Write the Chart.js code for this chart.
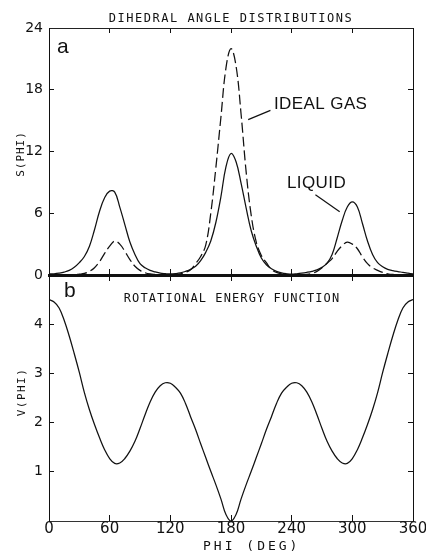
<!DOCTYPE html>
<html><head><meta charset="utf-8">
<script src="https://cdn.jsdelivr.net/npm/chart.js@4.4.0/dist/chart.umd.min.js"></script>
<style>
html,body{margin:0;padding:0;background:#fff;}
#wrap{position:relative;width:426px;height:553px;overflow:hidden;}
#c1{position:absolute;left:0;top:0;}
#c2{position:absolute;left:0;top:265px;}
</style></head><body>
<div id="wrap"><canvas id="c1" width="426" height="290"></canvas><canvas id="c2" width="426" height="288"></canvas></div>
<script>
// ---- data ----
const PHI = [0,5,10,15,20,25,30,35,40,45,50,55,60,65,70,75,80,85,90,95,100,105,110,115,120,125,130,135,140,145,150,155,160,165,170,175,180,185,190,195,200,205,210,215,220,225,230,235,240,245,250,255,260,265,270,275,280,285,290,295,300,305,310,315,320,325,330,335,340,345,350,355,360];
const LIQUID = [
  0.10,0.12,0.18,0.28,0.45,0.75,1.20,1.80,2.80,4.40,6.20,7.50,
  8.15,8.05,6.60,4.90,3.20,2.00,1.10,0.70,0.45,0.30,0.18,0.13,
  0.10,0.13,0.20,0.35,0.55,0.85,1.40,2.20,3.30,5.10,7.60,10.50,
  11.80,11.00,8.90,6.50,4.30,2.80,1.65,1.00,0.60,0.35,0.20,0.12,
  0.08,0.12,0.18,0.26,0.36,0.50,0.75,1.15,2.00,3.60,5.30,6.60,
  7.10,6.60,5.00,3.30,2.00,1.20,0.80,0.55,0.42,0.33,0.26,0.18,
  0.10];
const IDEAL_GAS = [
  0,0,0,0.01,0.02,0.04,0.08,0.15,0.35,0.70,1.30,2.10,
  2.80,3.30,3.00,2.30,1.50,0.85,0.45,0.22,0.10,0.05,0.02,0.01,
  0.01,0.03,0.10,0.25,0.50,1.10,1.80,2.90,6.00,10.40,15.30,20.10,
  22.00,20.30,15.60,10.00,5.80,3.20,1.90,1.20,0.55,0.25,0.10,0.03,
  0.01,0.01,0.02,0.05,0.15,0.35,0.70,1.15,1.60,2.30,2.85,3.20,
  3.00,2.55,1.75,1.10,0.70,0.45,0.25,0.12,0.05,0.02,0.01,0,
  0];
const ENERGY = [
  4.50,4.45,4.33,4.08,3.76,3.40,3.02,2.61,2.26,1.96,1.69,1.45,
  1.27,1.17,1.18,1.27,1.42,1.62,1.88,2.16,2.42,2.62,2.75,2.81,
  2.80,2.72,2.60,2.39,2.12,1.86,1.57,1.29,1.01,0.74,0.45,0.13,
  0.00,0.13,0.45,0.74,1.01,1.29,1.57,1.86,2.12,2.39,2.60,2.72,
  2.80,2.81,2.75,2.62,2.42,2.16,1.88,1.62,1.42,1.27,1.18,1.17,
  1.27,1.45,1.69,1.96,2.26,2.61,3.02,3.40,3.76,4.08,4.33,4.45,
  4.50];
const X_TICKS = [0,60,120,180,240,300,360];
const S_TICKS = [0,6,12,18,24];
const V_TICKS = [1,2,3,4];

// ---- helpers ----
const INK = '#111';
const pts = (xs, ys) => xs.map((x, i) => ({x: x, y: ys[i]}));
const setTicks = arr => s => { s.ticks = arr.map(v => ({value: v})); };

function text(ctx, t, x, y, font, spacing, align, rot) {
  ctx.save();
  ctx.font = font;
  try { ctx.letterSpacing = (spacing || 0) + 'px'; } catch (e) {}
  ctx.fillStyle = INK;
  ctx.textAlign = align || 'left';
  ctx.textBaseline = 'middle';
  ctx.translate(x, y);
  if (rot) ctx.rotate(rot);
  ctx.fillText(t, 0, 0);
  ctx.restore();
}
function leader(chart, x1, y1, x2, y2) {
  const xs = chart.scales.x, ys = chart.scales.y, ctx = chart.ctx;
  ctx.save();
  ctx.strokeStyle = INK; ctx.lineWidth = 1.2;
  ctx.beginPath();
  ctx.moveTo(xs.getPixelForValue(x1), ys.getPixelForValue(y1));
  ctx.lineTo(xs.getPixelForValue(x2), ys.getPixelForValue(y2));
  ctx.stroke();
  ctx.restore();
}

const MONO = '"DejaVu Sans Mono", monospace';
const SANS = '"Liberation Sans", Arial, sans-serif';

const textsTop = {
  id: 'textsTop',
  afterDraw(chart) {
    const ctx = chart.ctx;
    text(ctx, 'DIHEDRAL ANGLE DISTRIBUTIONS', 231, 19, '12px ' + MONO, 1.5, 'center');
    text(ctx, 'a', 57, 47, '21px ' + SANS, 0, 'left');
    text(ctx, 'S(PHI)', 21, 154, '11px ' + MONO, 1.0, 'center', -Math.PI / 2);
    text(ctx, 'IDEAL GAS', 274, 104, '17px ' + SANS, 0.4, 'left');
    text(ctx, 'LIQUID', 287, 183, '17px ' + SANS, 0.4, 'left');
    leader(chart, 197, 15.1, 219, 16.0);
    leader(chart, 263.5, 7.8, 287.5, 6.15);
  }
};
const textsBottom = {
  id: 'textsBottom',
  afterDraw(chart) {
    const ctx = chart.ctx;
    text(ctx, 'b', 64, 26, '21px ' + SANS, 0, 'left');
    text(ctx, 'ROTATIONAL ENERGY FUNCTION', 232, 34, '12px ' + MONO, 1.1, 'center');
    text(ctx, 'V(PHI)', 22, 127, '11px ' + MONO, 1.5, 'center', -Math.PI / 2);
    text(ctx, 'PHI (DEG)', 203, 282, '13px ' + MONO, 3, 'left');
  }
};

const base = {
  responsive: false, maintainAspectRatio: false, animation: false,
  plugins: {legend: {display: false}, tooltip: {enabled: false}},
  elements: {point: {radius: 0}, line: {borderWidth: 1.25, borderColor: INK, tension: 0.4, fill: false}}
};
const noPad = s => { s.paddingLeft = 0; s.paddingRight = 0; s.paddingTop = 0; s.paddingBottom = 0; };

// ---- top panel ----
new Chart(document.getElementById('c1'), {
  type: 'line',
  data: {datasets: [
    {label: 'LIQUID', data: pts(PHI, LIQUID), borderColor: INK, borderWidth: 1.25},
    {label: 'IDEAL GAS', data: pts(PHI, IDEAL_GAS), borderColor: INK, borderWidth: 1.25, borderDash: [10, 4]}
  ]},
  options: Object.assign({}, base, {
    layout: {padding: {left: 0, right: 13, top: 28, bottom: 0}},
    scales: {
      x: {type: 'linear', position: 'bottom', min: 0, max: 360, afterBuildTicks: setTicks(X_TICKS),
          ticks: {display: false}, grid: {drawOnChartArea: false, tickLength: -6, color: INK, lineWidth: 1},
          border: {color: INK, width: 3}, afterFit: s => { s.height = 15; noPad(s); }},
      xTop: {type: 'linear', position: 'top', min: 0, max: 360, afterBuildTicks: setTicks(X_TICKS),
          ticks: {display: false}, grid: {drawOnChartArea: false, tickLength: -5, color: INK, lineWidth: 1},
          border: {color: '#222', width: 1, dash: [12, 3, 3, 3]}, afterFit: s => { s.height = 0; noPad(s); }},
      y: {type: 'linear', position: 'left', min: 0, max: 24, afterBuildTicks: setTicks(S_TICKS),
          ticks: {color: INK, padding: 11, font: {family: 'DejaVu Sans', size: 14}},
          grid: {drawOnChartArea: false, tickLength: -5, color: INK, lineWidth: 1},
          border: {color: INK, width: 1}, afterFit: s => { s.width = 49; noPad(s); }},
      yR: {type: 'linear', position: 'right', min: 0, max: 24, afterBuildTicks: setTicks(S_TICKS),
          ticks: {display: false}, grid: {drawOnChartArea: false, tickLength: -5, color: INK, lineWidth: 1},
          border: {color: INK, width: 1}, afterFit: s => { s.width = 0; noPad(s); }}
    }
  }),
  plugins: [textsTop]
});

// ---- bottom panel ----
new Chart(document.getElementById('c2'), {
  type: 'line',
  data: {datasets: [
    {label: 'V(PHI)', data: pts(PHI, ENERGY), borderColor: INK, borderWidth: 1.25}
  ]},
  options: Object.assign({}, base, {
    layout: {padding: {left: 0, right: 13, top: 10, bottom: 0}},
    scales: {
      x: {type: 'linear', position: 'bottom', min: 0, max: 360, afterBuildTicks: setTicks(X_TICKS),
          ticks: {color: INK, padding: 5.5, maxRotation: 0, font: {family: 'DejaVu Sans', size: 15}},
          grid: {drawOnChartArea: false, tickLength: -6, color: INK, lineWidth: 1},
          border: {color: '#333', width: 1, dash: [10, 3, 2, 3]}, afterFit: s => { s.height = 32; noPad(s); }},
      xTop: {type: 'linear', position: 'top', min: 0, max: 360, afterBuildTicks: setTicks(X_TICKS),
          ticks: {display: false}, grid: {drawOnChartArea: false, tickLength: -6, color: INK, lineWidth: 1},
          border: {display: false}, afterFit: s => { s.height = 0; noPad(s); }},
      y: {type: 'linear', position: 'left', min: 0, max: 5, afterBuildTicks: setTicks(V_TICKS),
          ticks: {color: INK, padding: 11, font: {family: 'DejaVu Sans', size: 14}},
          grid: {drawOnChartArea: false, tickLength: -5, color: INK, lineWidth: 1},
          border: {color: INK, width: 1}, afterFit: s => { s.width = 49; noPad(s); }},
      yR: {type: 'linear', position: 'right', min: 0, max: 5, afterBuildTicks: setTicks(V_TICKS),
          ticks: {display: false}, grid: {drawOnChartArea: false, tickLength: -5, color: INK, lineWidth: 1},
          border: {color: INK, width: 1}, afterFit: s => { s.width = 0; noPad(s); }}
    }
  }),
  plugins: [textsBottom]
});
</script>
</body></html>
